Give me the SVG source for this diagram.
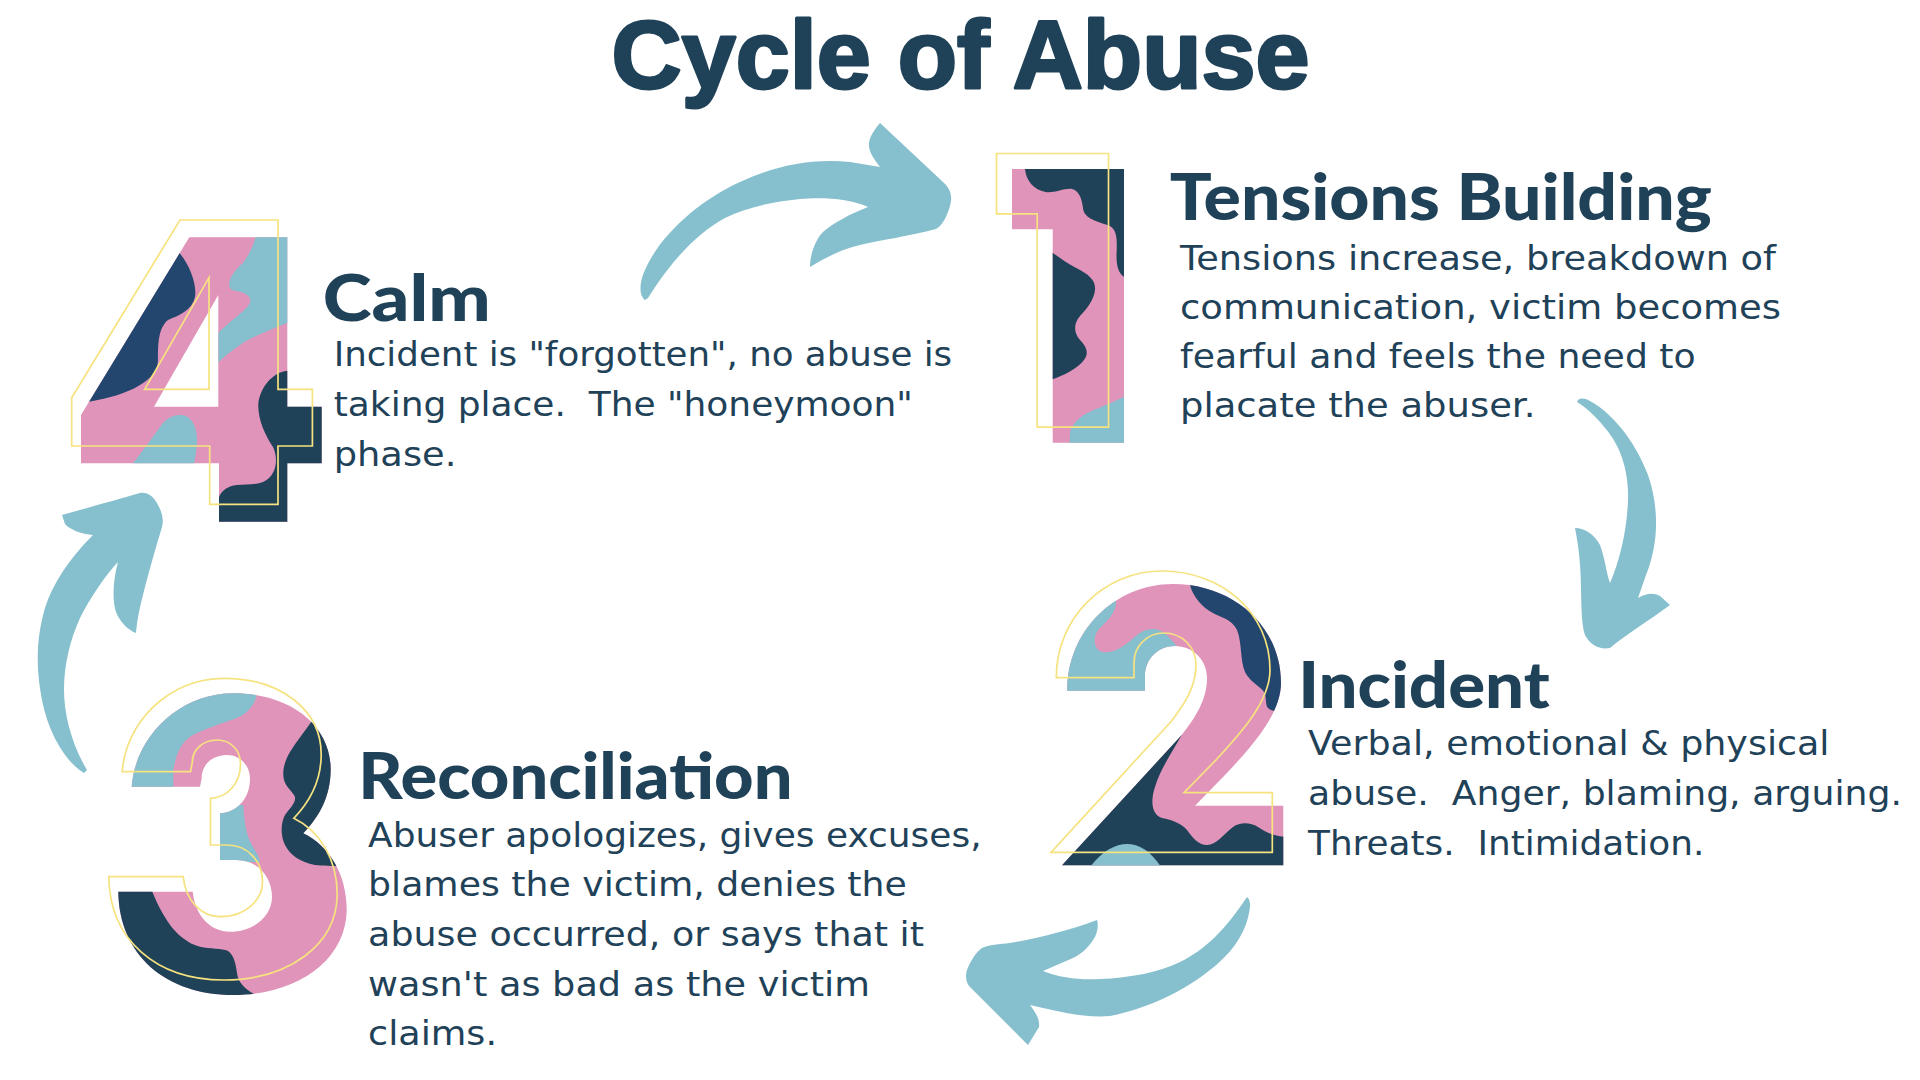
<svg xmlns="http://www.w3.org/2000/svg" xmlns:xlink="http://www.w3.org/1999/xlink" width="1920" height="1080" viewBox="0 0 1920 1080">
<style>
.h{font-family:Lato,"Open Sans",sans-serif;font-weight:900;fill:#1F4259}
.t{font-family:"Liberation Sans",Arial,sans-serif;font-weight:700;fill:#1F4259;stroke:#1F4259;stroke-width:3;stroke-linejoin:round}
.b{font-family:"DejaVu Sans","Open Sans",sans-serif;font-size:33px;fill:#1F4259}
.pk{fill:#E094B9}
.lb{fill:#86BFCD}
.nv{fill:#1F4259}
.bn{fill:#23466E}
.ol{fill:none;stroke:#F6E27F;stroke-width:1.7}
.arrow{fill:#86BFCD}
</style>
<defs>
<path id="d1" d="M1012,169 L1124,169 L1124,442.7 L1052.7,442.7 L1052.7,229.3 L1012,229.3 Z"/>
<path id="d2" d="M1062,865.3 L1283.3,865.3 L1283.3,805.7 L1195,805.7 L1226.7,773.3 C1250,748 1281,715 1281,683 C1281,626 1233,584 1173,584 C1114,584 1067,632 1067.3,690.7 L1145,690.7 L1145,676 C1145,659 1158,646 1175,646 C1193,646 1207,660 1207,678 C1207,700 1195,718 1181.7,735 Z"/>
<path id="d3" d="M131.7,786.7 C135,738 178,693.3 233.3,693.3 C290,693.3 331,725 330.7,770 C330.5,797 319,817 303.3,833.3 C330,846 347,876 346.7,910 C346,960 298,995 233.3,995 C166,995 119,955 118.3,891.7 L192.7,891.7 C195,915 210,931.7 230,931.7 C255,931.7 272,915 272,897 C272,876 257,860 236.7,860 L220,860 L220,813.3 C236,813 250,799 250,779 C250,765 240,755 226.7,755 C212,755 201.7,765 201.7,778 L200,786.7 Z"/>
<path id="d4" fill-rule="evenodd" clip-rule="evenodd" d="M189.3,237.3 L287.3,237.3 L287.3,406.7 L321.7,406.7 L321.7,463.3 L287.3,463.3 L287.3,521.7 L219,521.7 L219,463.3 L81,463.3 L81,415 Z M218.3,295 L218.3,406.7 L154,406.7 Z"/>
<clipPath id="c1"><use xlink:href="#d1"/></clipPath>
<clipPath id="c2"><use xlink:href="#d2"/></clipPath>
<clipPath id="c3"><use xlink:href="#d3"/></clipPath>
<clipPath id="c4"><use xlink:href="#d4" clip-rule="evenodd"/></clipPath>
</defs>
<rect width="1920" height="1080" fill="#FFFFFF"/>

<g id="title">
<text class="t" x="611.5" y="88" font-size="97" textLength="698" lengthAdjust="spacingAndGlyphs">Cycle of Abuse</text>
</g>

<g id="connectors">
<path id="arrow-calm-to-tensions" class="arrow" d="M645,300 C638,295 640,280 645,270 C660,235 700,200 740,182 C775,166 810,158 850,162 L880,167 C875,160 868,152 869,143 C870,135 876,128 880,123 L943,182 C950,188 953,196 950,206 C947,216 943,225 936,229 C910,236 880,240 856,246 C840,250 825,258 810,267 C810,255 815,240 823,232 C835,222 850,214 868,207 C850,198 820,197 800,199 C770,202 745,208 725,218 C700,232 675,255 648,298 Z"/>
<path id="arrow-tensions-to-incident" class="arrow" d="M1577,402 C1578,398 1582,398 1586,399 C1610,410 1635,440 1648,475 C1660,510 1658,545 1646,575 L1638,598 C1645,594 1653,592 1660,596 L1670,605 C1650,620 1625,635 1610,648 C1600,650 1590,645 1585,635 C1580,620 1582,590 1580,565 C1579,550 1577,538 1575,528 C1585,528 1595,535 1600,545 C1605,558 1606,572 1610,583 C1620,560 1627,530 1628,500 C1629,470 1620,445 1605,428 C1595,415 1585,407 1577,402 Z"/>
<path id="arrow-incident-to-reconciliation" class="arrow" d="M1247,897 C1250,899 1251,905 1249,913 C1245,935 1230,955 1210,970 C1185,990 1150,1008 1110,1016 C1085,1018 1060,1012 1030,1005 C1035,1012 1040,1018 1039,1027 L1028,1045 L970,987 C966,983 965,975 967,970 C970,962 976,952 982,948 C988,945 1000,944 1010,943 C1040,938 1070,930 1097,920 C1099,925 1097,935 1093,940 C1088,948 1080,955 1073,958 L1043,971 C1060,978 1080,980 1100,979 C1130,978 1160,972 1180,962 C1205,950 1225,930 1247,897 Z"/>
<path id="arrow-reconciliation-to-calm" class="arrow" d="M84,773 C70,765 50,740 42,700 C35,665 37,635 45,608 C52,585 68,560 93,535 C82,534 70,530 65,524 L62,515 C90,507 120,499 140,493 C148,492 154,497 158,505 C162,512 164,520 162,527 C155,550 148,575 143,595 C139,610 137,622 136,633 C128,630 120,622 116,612 C112,600 113,580 118,562 C105,576 90,598 80,618 C70,640 64,665 64,690 C64,715 72,745 87,770 Z"/>
</g>

<g id="node-1-tensions-building">
<g id="numeral-1">
<g clip-path="url(#c1)">
<rect class="pk" x="1000" y="160" width="140" height="300"/>
<path class="nv" d="M1025,160 L1025,169 C1026,180 1033,190 1046.7,192.3 C1055,193 1065,188 1072,189 C1080,191 1082,200 1083.3,210 C1086,220 1100,222 1110,226 C1117,230 1117,240 1116.7,250 C1116,262 1117,272 1124,276.7 L1135,280 L1135,160 Z"/>
<path class="nv" d="M1052.7,252.7 C1060,258 1068,264 1076.7,268.3 C1088,274 1096,280 1095,290 C1094,300 1086,310 1080,316 C1073,324 1074,333 1080,340 C1085,345 1090,352 1084,360 C1078,368 1065,375 1052.7,379.3 L1040,380 L1040,250 Z"/>
<path class="lb" d="M1124,396.7 C1110,404 1097,408 1086.7,413.3 C1078,418 1072,425 1070,432 L1069.3,450 L1135,450 L1135,390 Z"/>
</g>
<use xlink:href="#d1" class="ol" transform="translate(-15.5,-15.5)"/>
</g>
<text class="h" x="1169.8" y="220" font-size="64" textLength="542" lengthAdjust="spacingAndGlyphs">Tensions Building</text>
<text class="b" x="1180" y="270" textLength="596" lengthAdjust="spacingAndGlyphs">Tensions increase, breakdown of</text>
<text class="b" x="1180" y="318.5" textLength="601" lengthAdjust="spacingAndGlyphs">communication, victim becomes</text>
<text class="b" x="1180" y="368" textLength="515.7" lengthAdjust="spacingAndGlyphs">fearful and feels the need to</text>
<text class="b" x="1180" y="417" textLength="355.4" lengthAdjust="spacingAndGlyphs">placate the abuser.</text>
</g>

<g id="node-2-incident">
<g id="numeral-2">
<g clip-path="url(#c2)">
<rect class="pk" x="1040" y="570" width="260" height="310"/>
<path class="lb" d="M1116,580 L1116,599.3 C1117,612 1108,620 1100,628 C1092,636 1093,650 1103,652 C1115,654 1127,644 1137,635 C1146,628 1157,626 1166.7,635 C1171,639 1174,643 1176.7,646 L1180,700 L1050,700 L1050,580 Z"/>
<path class="bn" d="M1190,575 L1190,585 C1193,597 1202,607 1213.3,613.3 C1223,618 1232,620 1237,630 C1242,642 1240,660 1245,672 C1250,682 1260,686 1264,692 C1267,698 1265,705 1268,708 C1271,711 1276,712 1290,712 L1300,712 L1300,575 Z"/>
<path class="nv" d="M1181.7,735 C1172,752 1160,770 1155,787 C1150,802 1152,815 1162,818 C1172,820 1181,823 1187,830 C1193,838 1198,845 1207,845 C1216,845 1224,834 1233,827 C1240,822 1250,822 1258,827 C1266,832 1274,837 1290,837 L1290,880 L1040,880 L1040,735 Z"/>
<path class="lb" d="M1088,870 C1100,852 1115,844 1127,844 C1140,844 1152,852 1163,870 Z"/>
</g>
<use xlink:href="#d2" class="ol" transform="translate(-11,-13)"/>
</g>
<text class="h" x="1298.2" y="708" font-size="64" textLength="251.5" lengthAdjust="spacingAndGlyphs">Incident</text>
<text class="b" x="1308" y="755" textLength="521.5" lengthAdjust="spacingAndGlyphs">Verbal, emotional &amp; physical</text>
<text class="b" x="1308" y="805" textLength="594" lengthAdjust="spacingAndGlyphs" xml:space="preserve" style="white-space:pre">abuse.  Anger, blaming, arguing.</text>
<text class="b" x="1308" y="854.5" textLength="396.3" lengthAdjust="spacingAndGlyphs" xml:space="preserve" style="white-space:pre">Threats.  Intimidation.</text>
</g>

<g id="node-3-reconciliation">
<g id="numeral-3">
<g clip-path="url(#c3)">
<rect class="pk" x="100" y="680" width="260" height="330"/>
<path class="lb" d="M256.7,685 L256.7,694.3 C255,705 248,712 240,716.7 C230,721 205,728 190,736.7 C180,744 176,755 173.3,770 L173.3,800 L100,800 L100,685 Z"/>
<path class="lb" d="M215,805 L243.3,805 C244,820 246,835 252,845 C256,852 259,856 260,862 L215,862 Z"/>
<path class="nv" d="M318,712 C306,730 296,742 290,752 C284,762 282,772 284,780 C286,787 293,792 295,797 C296,803 289,809 285,815 C281,822 280,835 285,845 C290,855 300,862 315,865 C325,866 335,866 360,866 L360,700 Z"/>
<path class="nv" d="M148,880 C153,895 160,910 168,922 C176,934 188,944 200,946.7 C210,949 222,948 228,951 C234,955 236,965 237,973 C238,982 245,990 258,996 L260,1005 L100,1005 L100,880 Z"/>
</g>
<use xlink:href="#d3" class="ol" transform="translate(-9.5,-15)"/>
</g>
<text class="h" x="358.3" y="799" font-size="64" textLength="434.3" lengthAdjust="spacingAndGlyphs">Reconciliation</text>
<text class="b" x="368.1" y="847" textLength="613.5" lengthAdjust="spacingAndGlyphs">Abuser apologizes, gives excuses,</text>
<text class="b" x="368.1" y="896" textLength="538.7" lengthAdjust="spacingAndGlyphs">blames the victim, denies the</text>
<text class="b" x="368.1" y="946" textLength="555.9" lengthAdjust="spacingAndGlyphs">abuse occurred, or says that it</text>
<text class="b" x="368.1" y="995.5" textLength="501.9" lengthAdjust="spacingAndGlyphs">wasn't as bad as the victim</text>
<text class="b" x="368.1" y="1044.5" textLength="128.9" lengthAdjust="spacingAndGlyphs">claims.</text>
</g>

<g id="node-4-calm">
<g id="numeral-4">
<g clip-path="url(#c4)">
<rect class="pk" x="60" y="225" width="280" height="310"/>
<path class="bn" d="M179.5,253 C190,265 197,285 195,297 C192,310 180,315 168,320 C158,328 158,345 158,360 C158,380 130,395 89,401.7 L60,420 L60,230 Z"/>
<path class="lb" d="M257.3,230 L300,230 L300,318 C275,328 255,335 240,345 C230,352 222,358 218.3,363 L218.3,333 C228,322 245,312 250,303 C252,293 240,292 232,290 C225,285 232,272 243,263 C250,253 255,243 257.3,230 Z"/>
<path class="lb" d="M133,470 L133,463.3 C142,452 152,438 163,423 C170,416 175,415 181,415 C190,415 197,425 197,440 C197,450 195,458 193,470 Z"/>
<path class="nv" d="M287.3,370.7 C272,372 258,390 258.3,406.7 C258.5,420 265,435 273,447 C278,457 278,475 263,482 C255,485 245,484 236.7,485 C228,486 222,490 219,497 L210,540 L340,540 L340,370 Z"/>
</g>
<use xlink:href="#d4" class="ol" transform="translate(-9.3,-17.3)"/>
</g>
<text class="h" x="322.7" y="321" font-size="64" textLength="168" lengthAdjust="spacingAndGlyphs">Calm</text>
<text class="b" x="333.7" y="366" textLength="618.5" lengthAdjust="spacingAndGlyphs">Incident is "forgotten", no abuse is</text>
<text class="b" x="333.7" y="415.5" textLength="579.2" lengthAdjust="spacingAndGlyphs" xml:space="preserve" style="white-space:pre">taking place.  The "honeymoon"</text>
<text class="b" x="333.7" y="465.5" textLength="122.7" lengthAdjust="spacingAndGlyphs">phase.</text>
</g>
</svg>
